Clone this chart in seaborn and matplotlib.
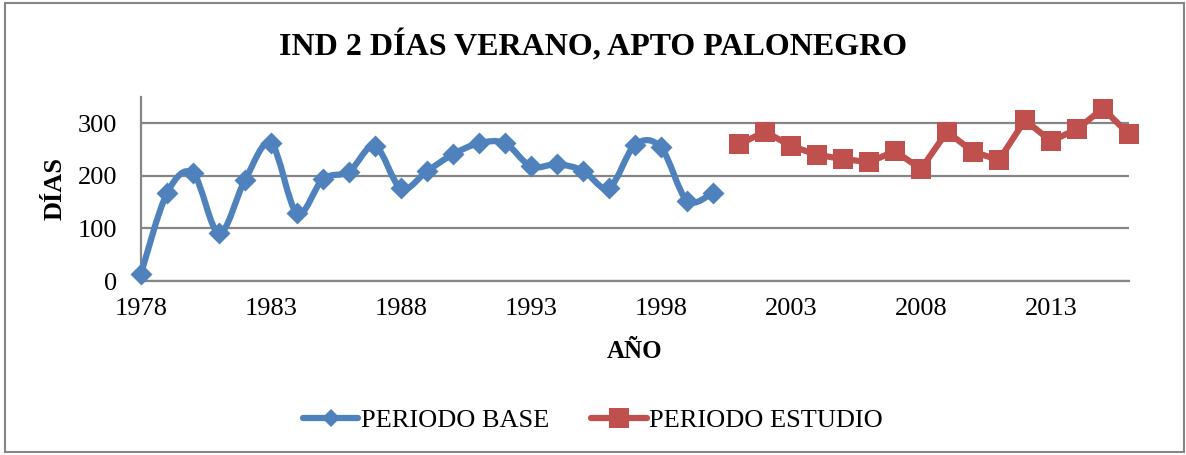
import numpy as np
import pandas as pd
import matplotlib
matplotlib.use("Agg")
import matplotlib.pyplot as plt
import seaborn as sns
from matplotlib.path import Path
from matplotlib.patches import PathPatch, Rectangle
from matplotlib.lines import Line2D

# datos
anios_base = list(range(1978, 2001))
dias_base = [14, 167, 205, 91, 192, 262, 129, 194, 208, 257, 176, 209, 241,
             262, 262, 218, 222, 210, 177, 259, 254, 153, 168]
anios_estudio = list(range(2001, 2017))
dias_estudio = [260, 284, 257, 240, 232, 226, 247, 213, 284, 246, 230, 306,
                266, 289, 328, 279]
ticks_x = [1978, 1983, 1988, 1993, 1998, 2003, 2008, 2013]
ticks_y = [0, 100, 200, 300]

AZUL = "#4F81BD"
ROJO = "#C0504D"
GRIS = "#868686"

sns.set_style("white")
plt.rcParams['font.family'] = ['Liberation Serif', 'DejaVu Serif']
plt.rcParams['text.color'] = 'black'
plt.rcParams['axes.labelcolor'] = 'black'
plt.rcParams['xtick.color'] = 'black'
plt.rcParams['ytick.color'] = 'black'

fig = plt.figure(figsize=(11.86, 4.55), dpi=100)
ax = fig.add_axes([141 / 1186, 1 - 281 / 455, (1129 - 141) / 1186, (281 - 97) / 455])

df_base = pd.DataFrame({"AÑO": anios_base, "DÍAS": dias_base})
df_est = pd.DataFrame({"AÑO": anios_estudio, "DÍAS": dias_estudio})


def curva_suave(x, y):
    """Curva tipo Excel (Bezier cubica) a traves de los puntos"""
    x = np.asarray(x, float)
    y = np.asarray(y, float)
    n = len(x)
    verts = [(x[0], y[0])]
    codes = [Path.MOVETO]
    for i in range(n - 1):
        i0 = max(i - 1, 0)
        i3 = min(i + 2, n - 1)
        c1 = (x[i] + (x[i + 1] - x[i0]) / 6, y[i] + (y[i + 1] - y[i0]) / 6)
        c2 = (x[i + 1] - (x[i3] - x[i]) / 6, y[i + 1] - (y[i3] - y[i]) / 6)
        verts += [c1, c2, (x[i + 1], y[i + 1])]
        codes += [Path.CURVE4] * 3
    return Path(verts, codes)


# periodo base: linea suavizada + rombos
ax.add_patch(PathPatch(curva_suave(df_base["AÑO"], df_base["DÍAS"]), fill=False,
                       edgecolor=AZUL, lw=4.5, capstyle='round', joinstyle='round',
                       zorder=3, clip_on=False))
sns.scatterplot(data=df_base, x="AÑO", y="DÍAS", marker="D", s=125, color=AZUL,
                linewidth=0, ax=ax, zorder=4, legend=False, clip_on=False)

# periodo estudio: linea recta + cuadrados
sns.lineplot(data=df_est, x="AÑO", y="DÍAS", color=ROJO, lw=4.5, marker="s",
             markersize=14, markeredgewidth=0, ax=ax, zorder=4, legend=False,
             clip_on=False)

ax.set_xlim(1978, 2016)
ax.set_ylim(0, 350)
ax.set_xticks(ticks_x)
ax.set_yticks(ticks_y)
ax.tick_params(axis='x', length=0, pad=12, labelsize=19, labelcolor='black')
ax.tick_params(axis='y', length=4, width=1.5, color=GRIS, pad=13, labelsize=19,
               labelcolor='black', direction='out')
ax.yaxis.grid(True, color=GRIS, lw=1.6)
ax.xaxis.grid(False)
for lado in ['top', 'right']:
    ax.spines[lado].set_visible(False)
ax.spines['left'].set_color(GRIS)
ax.spines['left'].set_linewidth(1.6)
ax.spines['bottom'].set_color(GRIS)
ax.spines['bottom'].set_linewidth(1.6)

ax.set_xlabel("AÑO", fontsize=18, fontweight='bold', va='center')
ax.xaxis.set_label_coords(0.5, (281 - 351) / 184)
ax.set_ylabel("DÍAS", fontsize=19, fontweight='bold', va='center')
ax.yaxis.set_label_coords((55 - 141) / 988, 0.5)

fig.text(0.5, 1 - 46 / 455, "IND 2 DÍAS VERANO, APTO PALONEGRO", ha='center', va='center',
         fontsize=23, fontweight='bold')

handles = [
    Line2D([], [], color=AZUL, lw=4.5, marker="D", markersize=9, markeredgewidth=0,
           solid_capstyle='round'),
    Line2D([], [], color=ROJO, lw=4.5, marker="s", markersize=14, markeredgewidth=0,
           solid_capstyle='round'),
]
fig.legend(handles, ["PERIODO BASE", "PERIODO ESTUDIO"], loc='center',
           bbox_to_anchor=(0.5, 1 - 420 / 455), ncol=2, frameon=False, fontsize=19,
           handlelength=2.1, handletextpad=0.1, columnspacing=1.6)

# borde del area del grafico
fig.patches.append(Rectangle((5 / 1186, 3 / 455), 1179 / 1186, 449 / 455, transform=fig.transFigure,
                             fill=False, edgecolor=GRIS, lw=1.5))

fig.savefig("out.png", dpi=100)
